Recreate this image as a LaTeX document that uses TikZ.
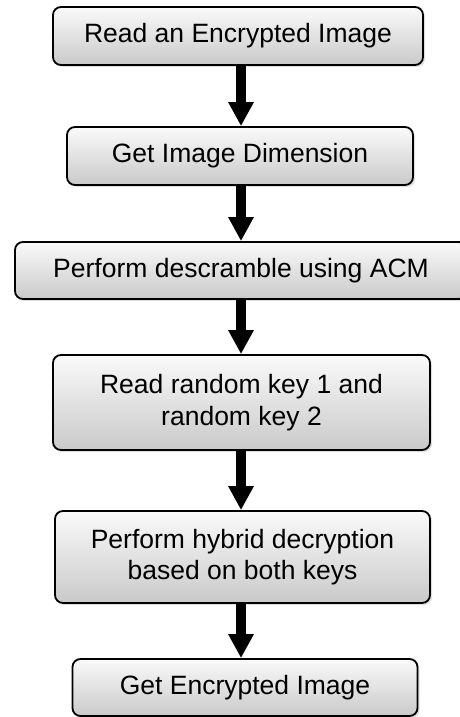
\documentclass[tikz,border=0pt]{standalone}
\usepackage{fontspec}
\setmainfont{Liberation Sans}
\usetikzlibrary{arrows.meta,shadows}
\begin{document}
\begin{tikzpicture}[x=1pt, y=1pt,
		stage/.style={draw, line width=1.8pt, rounded corners=8pt,
				top color=gray!4, bottom color=gray!42,
				drop shadow={opacity=.25, shadow xshift=2pt, shadow yshift=-2pt},
				align=center, inner sep=0pt, font=\fontsize{26.5}{31.5}\selectfont},
		flow/.style={line width=10pt, -{Triangle[width=24pt, length=24pt]}}]
	\useasboundingbox (0,0) rectangle (460,-717);
	\coordinate (spine) at (241,0);
	\node[stage, minimum width=370pt, minimum height=58pt] (box1) at (238,-36) {Read an Encrypted Image};
	\node[stage, minimum width=346pt, minimum height=58pt] (box2) at (240,-156) {Get Image Dimension};
	\node[stage, minimum width=452pt, minimum height=57pt] (box3) at (241,-270.5) {Perform descramble using ACM};
	\node[stage, minimum width=377pt, minimum height=95pt] (box4) at (241.5,-402.5) {Read random key 1 and\\random key 2};
	\node[stage, minimum width=375pt, minimum height=92pt] (box5) at (242.5,-557) {Perform hybrid decryption\\based on both keys};
	\node[stage, minimum width=345pt, minimum height=57pt] (box6) at (245,-687.5) {Get Encrypted Image};
	\foreach \i [count = \j from 2] in {1,...,5}{
			\draw[flow] (box\i.south -| spine) -- (box\j.north -| spine);
		}
\end{tikzpicture}
\end{document}
